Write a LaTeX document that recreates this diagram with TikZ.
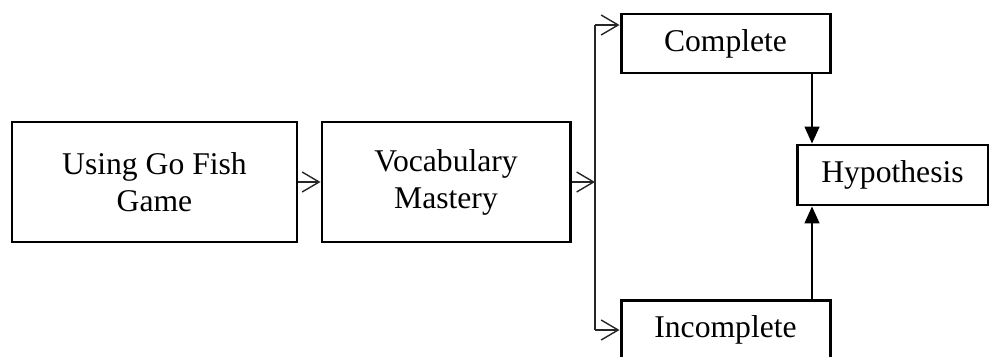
\documentclass[tikz,border=0pt]{standalone}
\usepackage{fontspec}
\setmainfont{Liberation Serif}
\usetikzlibrary{arrows.meta,calc}

\tikzset{
  block/.style={draw=black,line width=1.7pt,align=center,inner sep=0pt,
    font=\fontsize{18}{21}\selectfont},
  openarr/.style={draw=black!85,line width=0.8pt,-{Straight Barb[length=3.4mm,width=4mm]}},
  solidarr/.style={draw=black,line width=0.9pt,-{Triangle[length=3.4mm,width=3mm]}}
}

\begin{document}
\begin{tikzpicture}
\useasboundingbox (0,0) rectangle (19.78,7.12);

\node[block,minimum width=5.7cm,minimum height=2.4cm] (game) at (3.09,3.48) {Using Go Fish\\Game};
\node[block,minimum width=4.96cm,minimum height=2.4cm] (vocab) at (8.92,3.48) {Vocabulary\\Mastery};
\node[block,minimum width=4.18cm,minimum height=1.18cm] (comp) at (14.51,6.25) {Complete};
\node[block,minimum width=4.18cm,minimum height=1.18cm] (incomp) at (14.51,0.52) {Incomplete};
\node[block,minimum width=3.82cm,minimum height=1.2cm] (hyp) at (17.85,3.62) {Hypothesis};

\coordinate (splitT) at (11.9,6.62);
\coordinate (splitB) at (11.9,0.52);
\coordinate (hx) at (16.24,0);

\draw[openarr] (game.east) -- (vocab.west);
\draw[openarr] (vocab.east) -- (vocab.east -| splitT);
\draw[draw=black!85,line width=0.8pt] (splitT) -- (splitB);
\draw[openarr] (splitT) -- (splitT -| comp.west);
\draw[openarr] (splitB) -- (splitB -| incomp.west);

\draw[solidarr] (comp.south -| hx) -- (hyp.north -| hx);
\draw[solidarr] (incomp.north -| hx) -- (hyp.south -| hx);

\end{tikzpicture}
\end{document}
